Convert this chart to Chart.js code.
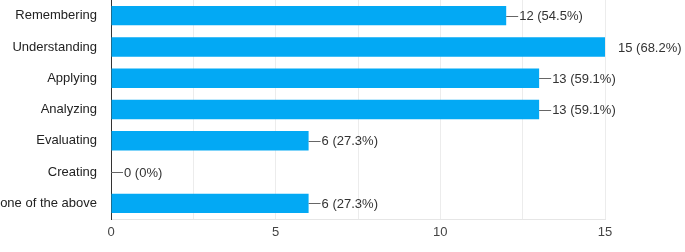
<!DOCTYPE html>
<html>
<head>
<meta charset="utf-8">
<script src="https://cdn.jsdelivr.net/npm/chart.js@4/dist/chart.umd.min.js"></script>
<style>
  html, body { margin: 0; padding: 0; background: #fff; }
  #wrap { width: 685px; height: 252px; position: relative; }
</style>
</head>
<body>
<div id="wrap"><canvas id="grafico"></canvas></div>
<script>
const categorias = ["Remembering", "Understanding", "Applying", "Analyzing", "Evaluating", "Creating", "None of the above"];
const respuestas = [12, 15, 13, 13, 6, 0, 6];
const porcentajes = ["54.5%", "68.2%", "59.1%", "59.1%", "27.3%", "0%", "27.3%"];
const ticksX = [0, 5, 10, 15];
const maxX = 15;

const fuente = "'Liberation Sans', Arial, sans-serif";

// etiquetas al final de cada barra, con una rayita
const etiquetasBarras = {
  id: "etiquetasBarras",
  afterDatasetsDraw(chart) {
    const c = chart.ctx;
    const meta = chart.getDatasetMeta(0);
    c.save();
    c.font = "13px " + fuente;
    c.textBaseline = "middle";
    c.textAlign = "left";
    meta.data.forEach((bar, i) => {
      const x = bar.x;
      const y = bar.y;
      if (respuestas[i] < maxX) {
        c.strokeStyle = "#666";
        c.lineWidth = 1;
        c.beginPath();
        c.moveTo(x, Math.round(y) + 0.5);
        c.lineTo(x + 12, Math.round(y) + 0.5);
        c.stroke();
      }
      c.fillStyle = "#333";
      c.fillText(respuestas[i] + " (" + porcentajes[i] + ")", x + 13, y + 1);
    });
    c.restore();
  }
};

const ctx = document.getElementById("grafico").getContext("2d");
new Chart(ctx, {
  type: "bar",
  data: {
    labels: categorias,
    datasets: [{
      data: respuestas,
      backgroundColor: "#03a9f4",
      borderWidth: 0,
      barPercentage: 0.62,
      categoryPercentage: 1
    }]
  },
  options: {
    indexAxis: "y",
    responsive: true,
    maintainAspectRatio: false,
    animation: false,
    layout: { padding: { left: 0, right: 80, top: 0, bottom: 0 } },
    plugins: {
      legend: { display: false },
      tooltip: { enabled: false }
    },
    scales: {
      x: {
        min: 0,
        max: maxX,
        ticks: {
          stepSize: 2.5,
          color: "#444",
          font: { size: 13, family: fuente },
          padding: 6,
          maxRotation: 0,
          callback: v => ticksX.includes(v) ? v : ""
        },
        grid: { color: "#ececec", drawTicks: false },
        border: { color: "#e6e6e6" },
        afterFit: s => { s.height = 33; s.paddingLeft = 0; s.paddingRight = 0; }
      },
      y: {
        ticks: {
          color: "#222",
          font: { size: 13, family: fuente },
          padding: 14
        },
        grid: { display: false, drawTicks: false },
        border: { color: "#333", width: 1 },
        afterFit: s => { s.width = 111; s.paddingTop = 0; s.paddingBottom = 0; }
      }
    }
  },
  plugins: [etiquetasBarras]
});
</script>
</body>
</html>
